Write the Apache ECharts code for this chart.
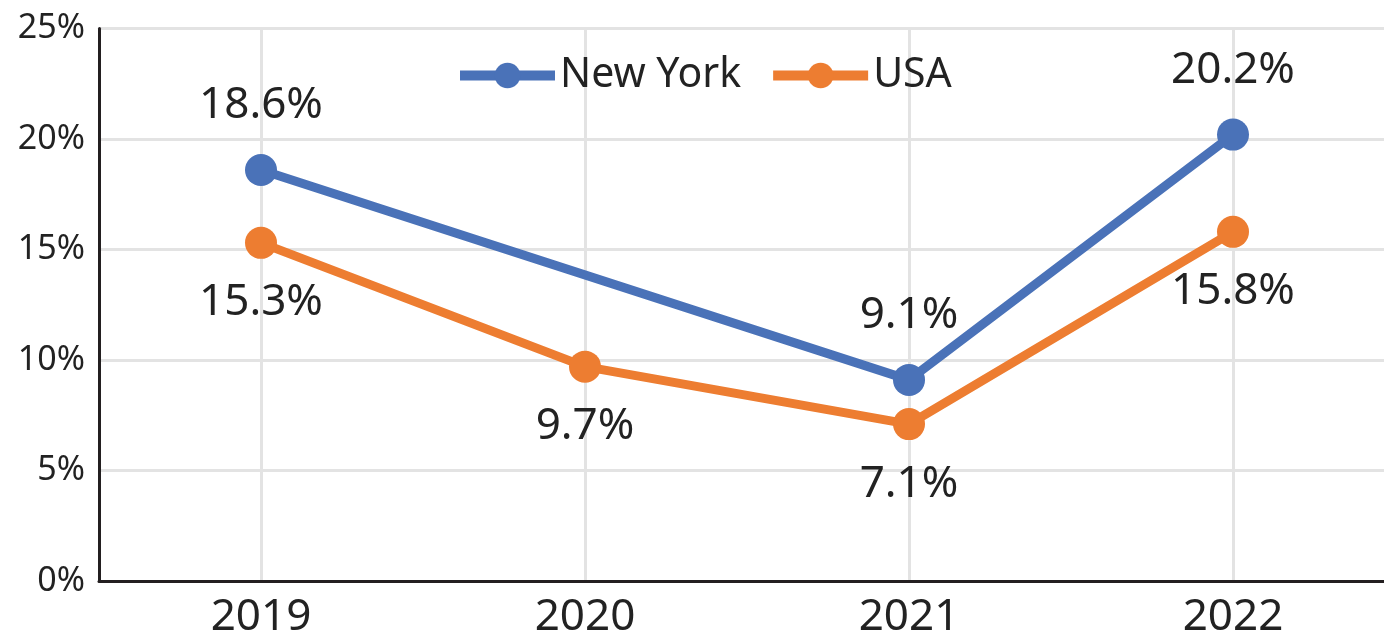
<!DOCTYPE html>
<html>
<head>
<meta charset="utf-8">
<script src="https://cdn.jsdelivr.net/npm/echarts@6/dist/echarts.min.js"></script>
<style>html,body{margin:0;padding:0;background:#fff;overflow:hidden}#c{width:1396px;height:641px}</style>
</head>
<body>
<div id="c"></div>
<script>
const categories = ['2019', '2020', '2021', '2022'];
const newYork = [18.6, null, 9.1, 20.2];
const usa = [15.3, 9.7, 7.1, 15.8];
const yTicks = [0, 5, 10, 15, 20, 25];

const FONT = 'Noto Sans';
const chart = echarts.init(document.getElementById('c'));
chart.setOption({
  animation: false,
  textStyle: { fontFamily: FONT },
  grid: { left: 99, top: 28.5, bottom: 60, width: 1296 },
  legend: {
    left: 450, top: 50,
    itemWidth: 95, itemHeight: 32, itemGap: 27,
    lineStyle: { width: 10 },
    textStyle: { fontSize: 41, color: '#222', fontFamily: FONT },
    data: ['New York', 'USA']
  },
  xAxis: {
    type: 'category',
    data: categories,
    axisLine: { lineStyle: { color: '#231f20', width: 3 } },
    axisTick: { show: false },
    axisLabel: { fontSize: 44, color: '#222', margin: 14, fontFamily: FONT },
    splitLine: { show: true, alignWithLabel: true, lineStyle: { color: '#e3e3e3', width: 3 } }
  },
  yAxis: {
    type: 'value',
    min: yTicks[0], max: yTicks[yTicks.length - 1], interval: 5,
    axisLine: { show: true, lineStyle: { color: '#231f20', width: 3 } },
    axisTick: { show: false },
    axisLabel: { fontSize: 34, color: '#222', margin: 14, formatter: '{value}%', padding: [0, 0, 10, 0], fontFamily: FONT },
    splitLine: { lineStyle: { color: '#e3e3e3', width: 3 } }
  },
  series: [
    {
      name: 'New York', type: 'line', data: newYork, connectNulls: true,
      symbol: 'circle', symbolSize: 32,
      itemStyle: { color: '#4a72b8' },
      lineStyle: { width: 9, color: '#4a72b8' },
      label: { show: true, position: 'top', distance: 26, fontSize: 44, color: '#222', formatter: p => p.value.toFixed(1) + '%', fontFamily: FONT },
      z: 3
    },
    {
      name: 'USA', type: 'line', data: usa,
      symbol: 'circle', symbolSize: 32,
      itemStyle: { color: '#ed7d31' },
      lineStyle: { width: 9, color: '#ed7d31' },
      label: { show: true, position: 'bottom', distance: 22, fontSize: 44, color: '#222', formatter: p => p.value.toFixed(1) + '%', fontFamily: FONT },
      z: 2
    }
  ]
});
</script>
</body>
</html>
